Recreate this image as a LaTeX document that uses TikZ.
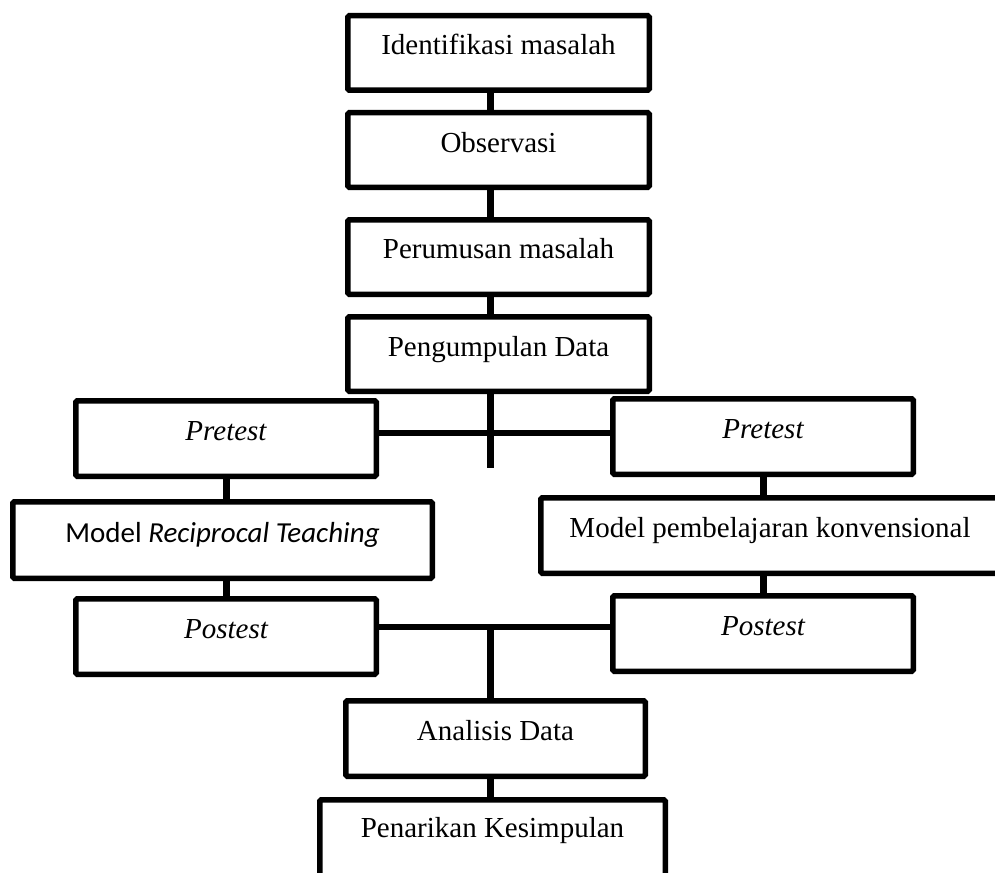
\documentclass[tikz,border=0pt]{standalone}
\usepackage{fontspec}
\setmainfont{Liberation Serif}
\newfontfamily\calibrifont{Carlito}
\begin{document}
\begin{tikzpicture}[x=1pt,y=-1pt, line width=5.5pt,
  box/.style={draw, line width=5.5pt, rounded corners=1.5pt, inner sep=0pt, minimum width=301.5pt, minimum height=74.5pt},
  smallbox/.style={box, minimum width=300.5pt, minimum height=75.5pt},
  conn/.style={line width=7pt},
  hconn/.style={line width=6pt},
  lbl/.style={anchor=base, font=\fontsize{29}{34}\selectfont, inner sep=0pt}]
\clip (0,0) rectangle (995,872);
\fill[white] (0,0) rectangle (995,872);
% boxes
\node[box] (ident) at (498.5,53) {};
\node[box] (obs) at (498.5,150) {};
\node[box] (perum) at (498.5,257) {};
\node[box] (peng) at (498.5,354) {};
\node[smallbox] (preL) at (226,438.5) {};
\node[box, minimum width=419.5pt, minimum height=76.5pt] (modL) at (222.5,540) {};
\node[smallbox] (postL) at (226,636.5) {};
\node[smallbox] (preR) at (763,436.5) {};
\node[box, minimum width=458.5pt, minimum height=75.5pt] (modR) at (770,535.5) {};
\node[smallbox] (postR) at (763,633.5) {};
\node[box, minimum width=299.5pt, minimum height=75.5pt] (anal) at (495.5,738.5) {};
\node[box, minimum width=345.5pt, minimum height=89.5pt] (pen) at (492.5,844.5) {};
% labels
\node[lbl] (t1) at ([yshift=-42pt]ident.north) {Identifikasi masalah};
\node[lbl] (t2) at ([yshift=-42pt]obs.north) {Observasi};
\node[lbl] (t3) at ([yshift=-41pt]perum.north) {Perumusan masalah};
\node[lbl] (t4) at ([yshift=-42pt]peng.north) {Pengumpulan Data};
\node[lbl] (t5) at ([yshift=-42pt]preL.north) {\itshape Pretest};
\node[lbl] (t6) at ([yshift=-43pt]modL.north) {\calibrifont Model \itshape Reciprocal Teaching};
\node[lbl] (t7) at ([yshift=-42pt]postL.north) {\itshape Postest};
\node[lbl] (t8) at ([yshift=-42pt]preR.north) {\itshape Pretest};
\node[lbl] (t9) at ([yshift=-42pt]modR.north) {Model pembelajaran konvensional};
\node[lbl] (t10) at ([yshift=-42pt]postR.north) {\itshape Postest};
\node[lbl] (t11) at ([yshift=-42pt]anal.north) {Analisis Data};
\node[lbl] (t12) at ([yshift=-40pt]pen.north) {Penarikan Kesimpulan};
% connectors
\coordinate (sp) at (490,0);
\coordinate (h1) at (0,433);
\coordinate (h2) at (0,627);
\coordinate (pEnd) at (490,468);
\draw[conn] (ident.south -| sp) -- (obs.north -| sp);
\draw[conn] (obs.south -| sp) -- (perum.north -| sp);
\draw[conn] (perum.south -| sp) -- (peng.north -| sp);
\draw[conn] (peng.south -| sp) -- (pEnd);
\draw[hconn] (preL.east |- h1) -- (preR.west |- h1);
\draw[conn] (preL.south) -- (preL.south |- modL.north);
\draw[conn] (modL.south -| preL.south) -- (postL.north);
\draw[conn] (preR.south) -- (preR.south |- modR.north);
\draw[conn] (modR.south -| preR.south) -- (postR.north);
\draw[hconn] (postL.east |- h2) -- (postR.west |- h2);
\draw[conn] (h2 -| sp) -- (anal.north -| sp);
\draw[conn] (anal.south -| sp) -- (pen.north -| sp);
\end{tikzpicture}
\end{document}
